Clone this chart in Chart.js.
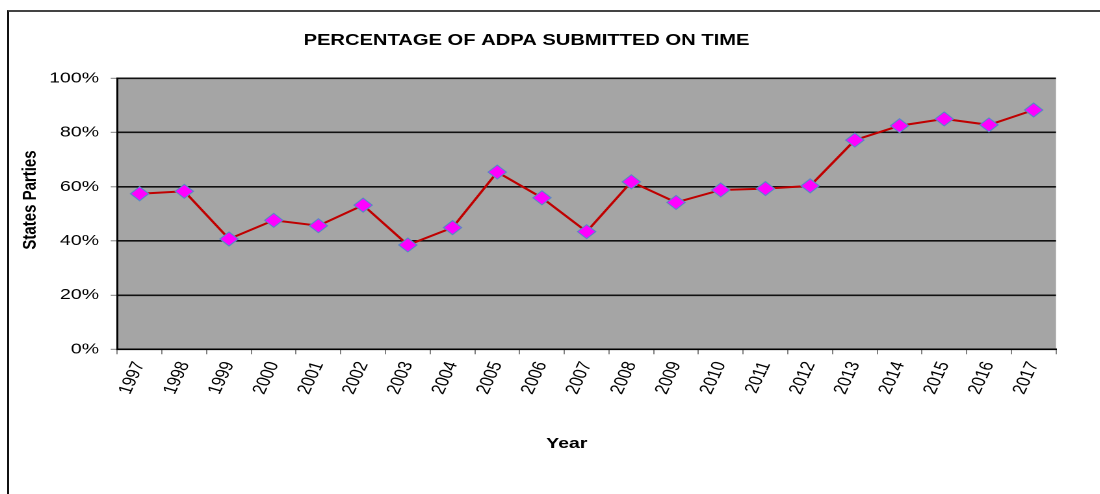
<!DOCTYPE html>
<html>
<head>
<meta charset="utf-8">
<script src="https://cdn.jsdelivr.net/npm/chart.js@4.4.1/dist/chart.umd.min.js"></script>
<style>
  html, body { margin: 0; padding: 0; background: #fff; overflow: hidden; }
  #frame { position: absolute; left: 7px; top: 10px; width: 1200px; height: 600px; border-left: 2px solid #111; border-top: 2px solid #444; }
  #wrap { position: absolute; left: 0; top: 0; width: 846px; height: 494px; transform: scaleX(1.3); transform-origin: 0 0; }
</style>
</head>
<body>
<div id="frame"></div>
<div id="wrap"><canvas id="chart" width="846" height="494"></canvas></div>
<script>
const years = ['1997', '1998', '1999', '2000', '2001', '2002', '2003', '2004', '2005', '2006', '2007',
  '2008', '2009', '2010', '2011', '2012', '2013', '2014', '2015', '2016', '2017'];
const onTime = [57.4, 58.3, 40.7, 47.6, 45.6, 53.2, 38.5, 44.9, 65.4, 55.9, 43.4,
  61.8, 54.2, 58.8, 59.3, 60.3, 77.2, 82.5, 85.0, 82.8, 88.3];
const yMin = 0;
const yMax = 100;
const yStep = 20;
const chartTitle = 'PERCENTAGE OF ADPA SUBMITTED ON TIME';
const xTitle = 'Year';
const yTitle = 'States Parties';

const fontFamily = '"Liberation Sans", Arial, sans-serif';

const plotBackground = {
  id: 'plotBackground',
  beforeDraw(chart) {
    const { ctx, chartArea: a } = chart;
    ctx.save();
    ctx.fillStyle = '#a5a5a5';
    ctx.fillRect(a.left, a.top, a.right - a.left, a.bottom - a.top);
    ctx.restore();
  }
};

const chartTexts = {
  id: 'chartTexts',
  afterDraw(chart) {
    const ctx = chart.ctx;
    ctx.save();
    ctx.fillStyle = '#000';
    ctx.textAlign = 'center';
    ctx.textBaseline = 'alphabetic';
    ctx.font = 'bold 15.5px ' + fontFamily;
    ctx.fillText(chartTitle, 405, 45);
    ctx.font = 'bold 15px ' + fontFamily;
    ctx.fillText(xTitle, 436, 448);
    ctx.translate(27.7, 200);
    ctx.rotate(-Math.PI / 2);
    ctx.fillText(yTitle, 0, 0);
    ctx.restore();
  }
};

new Chart(document.getElementById('chart'), {
  type: 'line',
  data: {
    labels: years,
    datasets: [{
      data: onTime,
      borderColor: '#c00000',
      borderWidth: 2,
      tension: 0,
      pointStyle: 'rectRot',
      pointRadius: 7,
      pointBackgroundColor: '#ff00ff',
      pointBorderColor: '#5b86c8',
      pointBorderWidth: 1,
      clip: false
    }]
  },
  options: {
    responsive: false,
    animation: false,
    devicePixelRatio: 2,
    layout: { padding: { top: 78.3, right: 33.7, bottom: 0, left: 0 } },
    plugins: { legend: { display: false }, tooltip: { enabled: false }, title: { display: false } },
    scales: {
      x: {
        type: 'category',
        offset: true,
        grid: { display: true, drawOnChartArea: false, drawTicks: true, tickLength: 5, tickColor: '#808080', tickWidth: 1, offset: true },
        border: { display: true, color: '#000', width: 1.5 },
        ticks: { autoSkip: false, minRotation: 70, maxRotation: 70, padding: 5, color: '#000', font: { family: fontFamily, size: 15 } },
        afterFit: s => { s.height = 494 - 349.3; }
      },
      y: {
        min: yMin,
        max: yMax,
        grid: { color: '#111', lineWidth: 1.6, tickColor: '#808080', tickWidth: 1, tickLength: 5 },
        border: { display: true, color: '#000', width: 1.5 },
        ticks: { stepSize: yStep, padding: 9, color: '#000', font: { family: fontFamily, size: 15 }, callback: v => v + '%' },
        afterFit: s => { s.width = 90.2; }
      }
    }
  },
  plugins: [plotBackground, chartTexts]
});
</script>
</body>
</html>
